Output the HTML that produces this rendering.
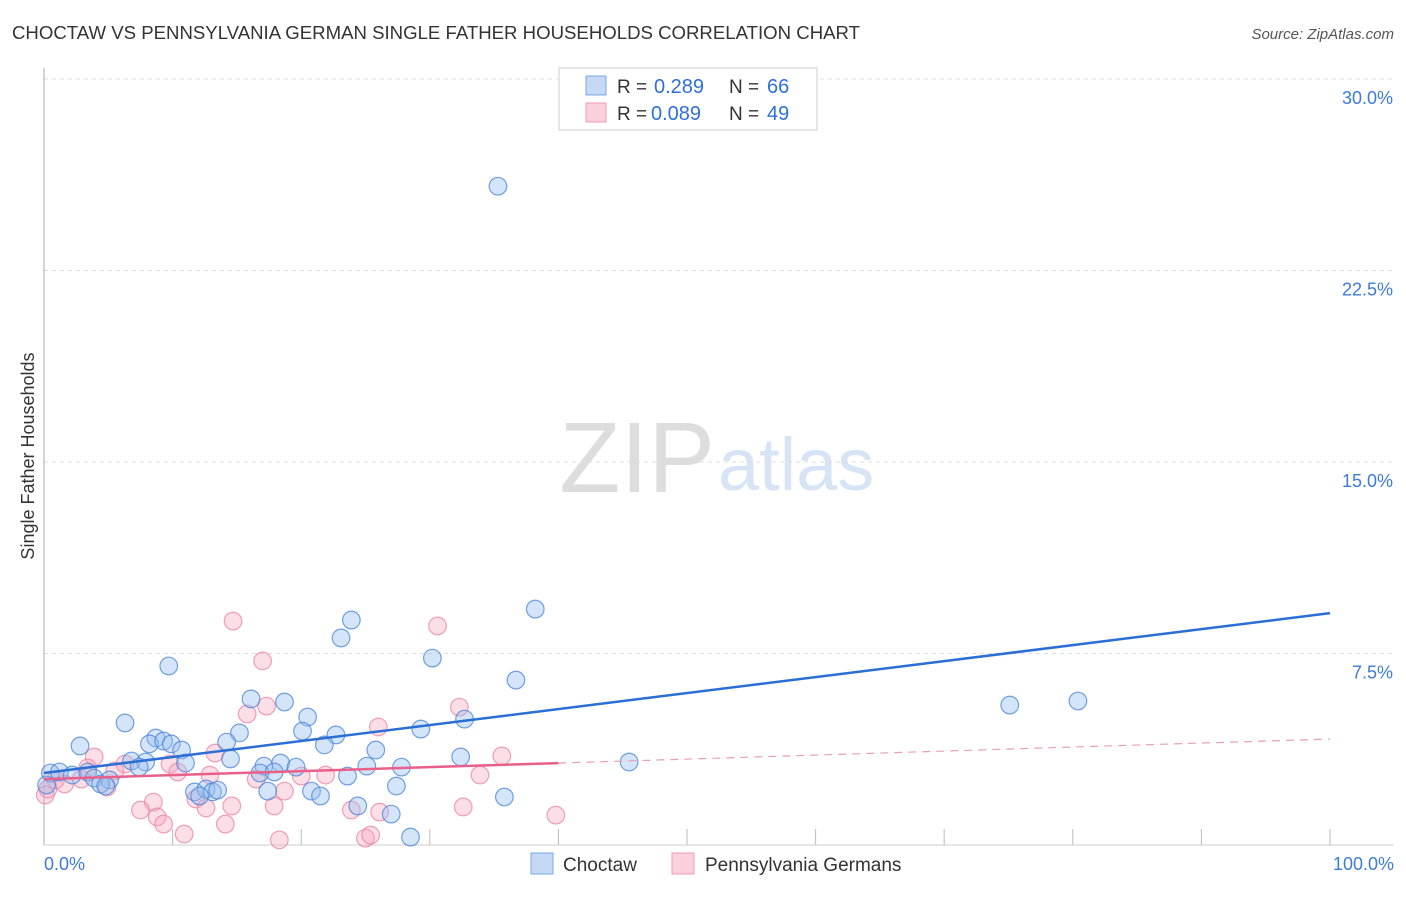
<!DOCTYPE html>
<html><head><meta charset="utf-8"><style>
body{margin:0;background:#fff;font-family:"Liberation Sans",sans-serif;}
svg text{font-family:"Liberation Sans",sans-serif;}
</style></head><body>
<svg width="1406" height="892" xmlns="http://www.w3.org/2000/svg">
<text x="12" y="39" font-size="18" fill="#333" textLength="848" lengthAdjust="spacingAndGlyphs">CHOCTAW VS PENNSYLVANIA GERMAN SINGLE FATHER HOUSEHOLDS CORRELATION CHART</text>
<text x="1394" y="39" font-size="15" fill="#555" text-anchor="end" font-style="italic">Source: ZipAtlas.com</text>
<text x="715" y="492" font-size="100" fill="#ddd" text-anchor="end" font-family="Liberation Serif">ZIP</text>
<text x="718" y="490" font-size="74" fill="#d6e4f5">atlas</text>
<g id="grid"></g><g id="axes"></g><g id="pts"></g><g id="lines"></g>
<text transform="translate(34,456) rotate(-90)" font-size="18" fill="#333" text-anchor="middle">Single Father Households</text>
<text x="44" y="870" font-size="18" fill="#3d7bd9">0.0%</text>
<text x="1394" y="870" font-size="18" fill="#3d7bd9" text-anchor="end">100.0%</text>
<g>
<rect x="559" y="68" width="258" height="62" fill="#fff" stroke="#ccc"/>
<rect x="586" y="76" width="20" height="19" fill="#c5d9f5" stroke="#7aa6e6"/>
<rect x="586" y="103" width="20" height="19" fill="#fbd0dd" stroke="#f09ab5"/>
<text x="617" y="93" font-size="19" fill="#333">R =</text>
<text x="654" y="93" font-size="20" fill="#2f6fd8">0.289</text>
<text x="729" y="93" font-size="19" fill="#333">N =</text>
<text x="767" y="93" font-size="20" fill="#2f6fd8">66</text>
<text x="617" y="120" font-size="19" fill="#333">R =</text>
<text x="651" y="120" font-size="20" fill="#2f6fd8">0.089</text>
<text x="729" y="120" font-size="19" fill="#333">N =</text>
<text x="767" y="120" font-size="20" fill="#2f6fd8">49</text>
</g>
<g>
<rect x="531" y="853" width="22" height="21" fill="#c5d9f5" stroke="#7aa6e6"/>
<text x="563" y="871" font-size="19" fill="#333">Choctaw</text>
<rect x="672" y="853" width="22" height="21" fill="#fbd0dd" stroke="#f09ab5"/>
<text x="705" y="871" font-size="19" fill="#333">Pennsylvania Germans</text>
</g>
</svg>
<script>
const yTicks=[7.5,15,22.5,30];
const xTickVals=[10,20,30,40,50,60,70,80,90,100];
const blueX=[35.3,38.2,23.9,23.1,9.7,30.2,36.7,75.1,80.4,16.1,18.7,20.5,32.7,6.3,20.1,22.7,29.3,15.2,2.8,8.7,8.2,9.3,9.9,10.7,14.2,21.8,25.8,6.8,7.9,11.0,14.5,17.1,18.4,19.6,25.1,27.8,32.4,45.5,7.4,16.8,17.9,23.6,0.5,1.2,2.2,3.4,3.9,5.1,4.4,4.8,11.7,12.6,13.1,13.5,12.1,17.4,20.8,21.5,27.4,35.8,24.4,27.0,28.5,0.2];
const blueY=[25.8,9.24,8.81,8.11,7.01,7.32,6.46,5.48,5.64,5.72,5.60,5.01,4.93,4.78,4.46,4.31,4.54,4.39,3.88,4.19,3.96,4.07,3.96,3.72,4.03,3.92,3.72,3.29,3.25,3.21,3.37,3.09,3.21,3.05,3.09,3.05,3.45,3.25,3.05,2.82,2.86,2.70,2.82,2.86,2.74,2.86,2.62,2.55,2.39,2.31,2.08,2.19,2.08,2.15,1.92,2.11,2.11,1.92,2.31,1.88,1.53,1.21,0.31,2.35];
const pinkX=[14.7,30.6,17.0,17.3,15.8,32.3,26.0,13.3,3.9,35.6,6.3,9.8,10.4,12.9,16.5,20.0,21.9,33.9,3.4,5.5,2.9,4.9,18.7,11.8,8.5,7.5,8.8,9.3,12.6,14.6,17.9,23.9,26.1,32.6,39.8,10.9,14.1,18.3,25.0,25.4,0.3,0.9,1.6,0.1];
const pinkY=[8.77,8.58,7.21,5.44,5.13,5.40,4.62,3.60,3.45,3.49,3.17,3.17,2.86,2.74,2.58,2.70,2.74,2.74,3.02,2.90,2.58,2.27,2.11,1.80,1.68,1.37,1.10,0.82,1.45,1.53,1.53,1.37,1.29,1.49,1.17,0.43,0.82,0.20,0.27,0.39,2.19,2.55,2.39,1.96];
const blueTrend=[2.82,9.08];
const pinkTrend=[2.58,4.15];
const pinkSolidEnd=40;
const X=v=>44+v*12.86, Y=v=>845-v*191.5/7.5;
const NS="http://www.w3.org/2000/svg";
function mk(p,t,a){const e=document.createElementNS(NS,t);for(const k in a)e.setAttribute(k,a[k]);document.getElementById(p).appendChild(e);return e;}
yTicks.forEach(t=>{
 const g=mk('grid','line',{x1:44,x2:1394,y1:Y(t),y2:Y(t),stroke:'#ddd','stroke-dasharray':'4,4'});
 
 
 const l=mk('grid','text',{x:1393,y:Y(t)+25,'font-size':18,fill:'#3d7bd9','text-anchor':'end'});
 l.textContent=t.toFixed(1)+'%';
 
 
});
const ax=mk('axes','line',{x1:44,x2:44,y1:68,y2:845,stroke:'#aaa'});


const bx=mk('axes','line',{x1:44,x2:1394,y1:845,y2:845,stroke:'#ccc'});


xTickVals.forEach(t=>{
 const e=mk('axes','line',{x1:X(t),x2:X(t),y1:829,y2:845,stroke:'#bbb'});
 
 
});
pinkX.forEach((v,i)=>{
 const c=mk('pts','circle',{cx:X(v),cy:Y(pinkY[i]),r:8.8,fill:'rgba(245,160,185,0.35)',stroke:'rgba(235,130,165,0.75)','stroke-width':1.2});
 
 
});
blueX.forEach((v,i)=>{
 const c=mk('pts','circle',{cx:X(v),cy:Y(blueY[i]),r:8.8,fill:'rgba(150,190,240,0.4)',stroke:'rgba(70,130,215,0.75)','stroke-width':1.2});
 
 
});
const bl=mk('lines','line',{x1:X(0),y1:Y(blueTrend[0]),x2:X(100),y2:Y(blueTrend[1]),stroke:'#2a6ed6','stroke-width':2.5});


const pm=pinkTrend[0]+(pinkTrend[1]-pinkTrend[0])*pinkSolidEnd/100;
const pl=mk('lines','line',{x1:X(0),y1:Y(pinkTrend[0]),x2:X(pinkSolidEnd),y2:Y(pm),stroke:'#e8608a','stroke-width':2.5});


const pd=mk('lines','line',{x1:X(pinkSolidEnd),y1:Y(pm),x2:X(100),y2:Y(pinkTrend[1]),stroke:'#e8a0b8','stroke-width':1.2,'stroke-dasharray':'8,6'});


</script>
</body></html>
